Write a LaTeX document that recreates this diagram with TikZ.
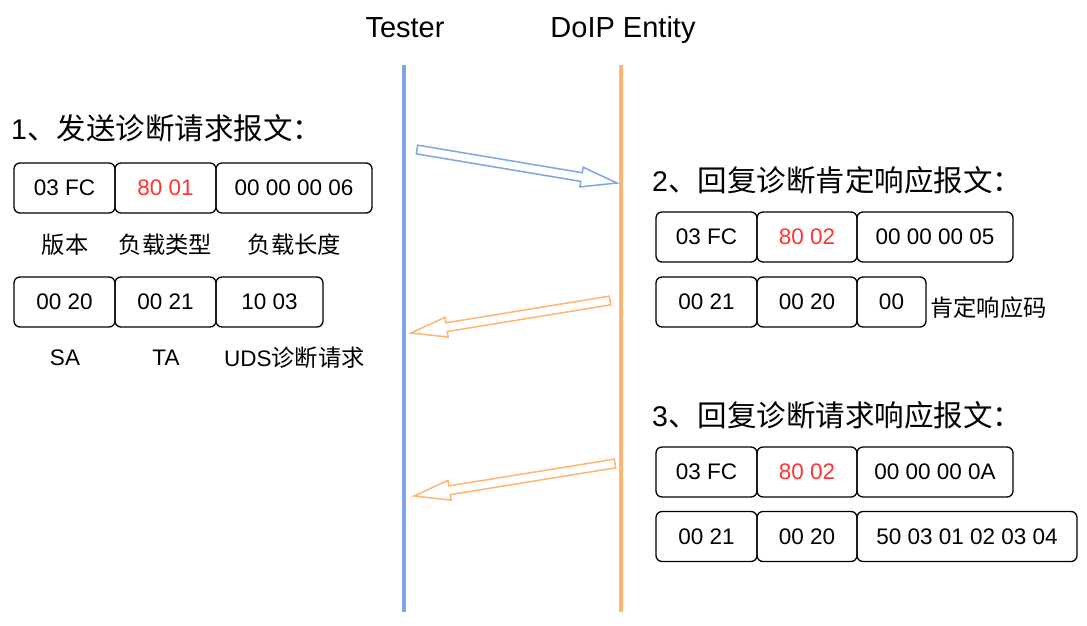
\documentclass[tikz,border=0pt]{standalone}
\usepackage{fontspec}
\setmainfont{Liberation Sans}
\newfontfamily\cjk[Scale=1.035]{Noto Sans CJK SC}
\usetikzlibrary{calc}
\definecolor{lblue}{HTML}{7EA6E0}
\definecolor{lorange}{HTML}{FFB570}
\definecolor{lred}{HTML}{FF3333}
\tikzset{
 box/.style={draw, rounded corners=6pt, line width=1.3pt, minimum height=50pt, inner sep=0pt, font=\fontsize{22.5}{27}\selectfont},
 redtxt/.style={text=lred},
 lbl/.style={inner sep=0pt, font=\fontsize{22.5}{27}\selectfont},
 ttl/.style={inner sep=0pt, anchor=west, font=\fontsize{28.5}{34}\selectfont},
 hdr/.style={inner sep=0pt, anchor=base, font=\fontsize{29}{34}\selectfont},
 life/.style={line width=4pt},
 fat/.style={line width=1.5pt, fill=white, line join=miter},
}
\newcommand\myfatarrow[3]{%
 \coordinate (#1b) at ($(#2)!36pt!(#1)$);
 \draw[fat, draw=#3] ($(#1)!4.4pt!90:(#2)$) -- ($(#1b)!4.4pt!90:(#2)$) -- ($(#1b)!10pt!90:(#2)$) -- (#2)
   -- ($(#1b)!10pt!-90:(#2)$) -- ($(#1b)!4.4pt!-90:(#2)$) -- ($(#1)!4.4pt!-90:(#2)$) -- cycle;
}
\begin{document}
\begin{tikzpicture}[x=1pt,y=-1pt]
\useasboundingbox (0,0) rectangle (1087,625);
% headers and lifelines
\node[hdr] (tester) at (405,37) {Tester};
\node[hdr] (doip) at (623,37) {DoIP Entity};
\coordinate (ttop) at (404,65); \coordinate (tbot) at (404,612);
\coordinate (dtop) at (621,65); \coordinate (dbot) at (621,612);
\draw[life, lblue] (ttop) -- (tbot);
\draw[life, lorange] (dtop) -- (dbot);
% arrows
\coordinate (as) at (417,149.5); \coordinate (ae) at (617,183);
\coordinate (bs) at (610,300.5); \coordinate (be) at (411,333);
\coordinate (cs) at (615,463.5); \coordinate (ce) at (414,496);
\myfatarrow{as}{ae}{lblue}
\myfatarrow{bs}{be}{lorange}
\myfatarrow{cs}{ce}{lorange}
% group 1
\node[ttl] (t1) at (11,128) {1{\cjk 、发送诊断请求报文：}};
\node[box, minimum width=101pt] (g1a) at (64.5,188) {03 FC};
\node[box, minimum width=101pt, redtxt] (g1b) at (165.5,188) {80 01};
\node[box, minimum width=156pt] (g1c) at (294,188) {00 00 00 06};
\node[lbl] (l1a) at (65,245) {\cjk 版本};
\node[lbl] (l1b) at (165.5,245) {\cjk 负载类型};
\node[lbl] (l1c) at (294.5,245) {\cjk 负载长度};
\node[box, minimum width=101pt] (g1d) at (64.5,302) {00 20};
\node[box, minimum width=101pt] (g1e) at (165.5,302) {00 21};
\node[box, minimum width=107pt] (g1f) at (269.5,302) {10 03};
\node[lbl] (l1d) at (65,358) {SA};
\node[lbl] (l1e) at (166,358) {TA};
\node[lbl] (l1f) at (294.5,358) {UDS{\cjk 诊断请求}};
% group 2
\node[ttl] (t2) at (652,180) {2{\cjk 、回复诊断肯定响应报文：}};
\node[box, minimum width=101pt] (g2a) at (706.5,237) {03 FC};
\node[box, minimum width=100pt, redtxt] (g2b) at (807,237) {80 02};
\node[box, minimum width=156pt] (g2c) at (935,237) {00 00 00 05};
\node[box, minimum width=101pt] (g2d) at (706.5,302) {00 21};
\node[box, minimum width=100pt] (g2e) at (807,302) {00 20};
\node[box, minimum width=69pt] (g2f) at (891.5,302) {00};
\node[lbl, anchor=west] (l2f) at (930,308) {\cjk 肯定响应码};
% group 3
\node[ttl] (t3) at (652,415) {3{\cjk 、回复诊断请求响应报文：}};
\node[box, minimum width=101pt] (g3a) at (706.5,472) {03 FC};
\node[box, minimum width=100pt, redtxt] (g3b) at (807,472) {80 02};
\node[box, minimum width=156pt] (g3c) at (935,472) {00 00 00 0A};
\node[box, minimum width=101pt] (g3d) at (706.5,536.5) {00 21};
\node[box, minimum width=100pt] (g3e) at (807,536.5) {00 20};
\node[box, minimum width=220pt] (g3f) at (967,536.5) {50 03 01 02 03 04};
\end{tikzpicture}
\end{document}
